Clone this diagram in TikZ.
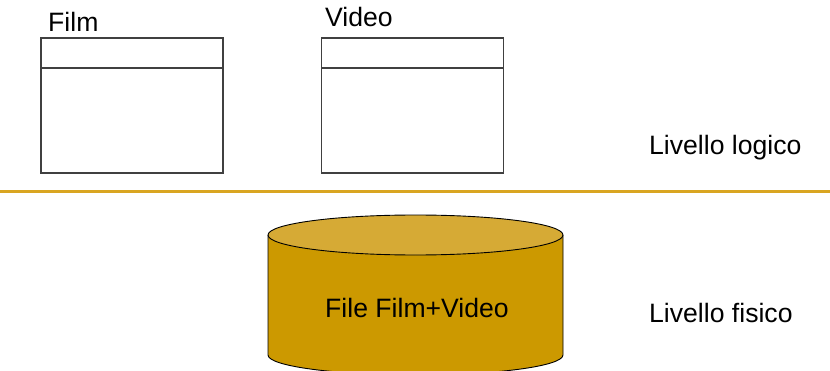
\documentclass[tikz,border=0pt]{standalone}
\usepackage{fontspec}
\setmainfont{Liberation Sans}
\usepackage{xcolor}
\usepackage{tikz}
\usetikzlibrary{positioning,calc}
\definecolor{gold}{HTML}{D9A521}
\definecolor{dbbody}{HTML}{CC9900}
\definecolor{dbtop}{HTML}{D6AA35}

\begin{document}
\begin{tikzpicture}[x=1pt,y=1pt,font=\fontsize{26.6}{32}\selectfont,
  tbl/.style={draw=black!75,line width=1.1pt,minimum width=182pt,minimum height=135pt,inner sep=0pt,outer sep=0pt},
  lbl/.style={inner sep=0pt,anchor=base west},
  db/.style={draw=black,line width=0.9pt}]
\useasboundingbox (0,0) rectangle (830,370);
\clip (0,0) rectangle (830,370);
% livello logico
\foreach \i/\name/\x/\lx/\ly in {film/Film/132/48/338, video/Video/412.5/325/343}{
  \node[tbl] (\i) at (\x,264.5) {};
  \draw[draw=black!75,line width=1.1pt] ([yshift=-30pt]\i.north west) -- ([yshift=-30pt]\i.north east);
  \node[lbl] (\i lbl) at (\lx,\ly) {\name};
}
\node[lbl] (logico) at (649,215) {Livello logico};
% separatore
\coordinate (sepl) at (0,178);
\coordinate (sepr) at (830,178);
\draw[gold,line width=3pt] (sepl) -- (sepr);
% livello fisico
\fill[dbbody] (268,135) -- (268,15) arc[start angle=180,end angle=360,x radius=147.5,y radius=20] -- (563,135) -- cycle;
\draw[db] (268,135) -- (268,15) arc[start angle=180,end angle=360,x radius=147.5,y radius=20] -- (563,135);
\filldraw[db,fill=dbtop] (415.5,135) ellipse[x radius=147.5,y radius=20];
\node[inner sep=0pt,anchor=base] (file) at (417,53) {File Film+Video};
\node[lbl] (fisico) at (649,48) {Livello fisico};
\end{tikzpicture}
\end{document}
